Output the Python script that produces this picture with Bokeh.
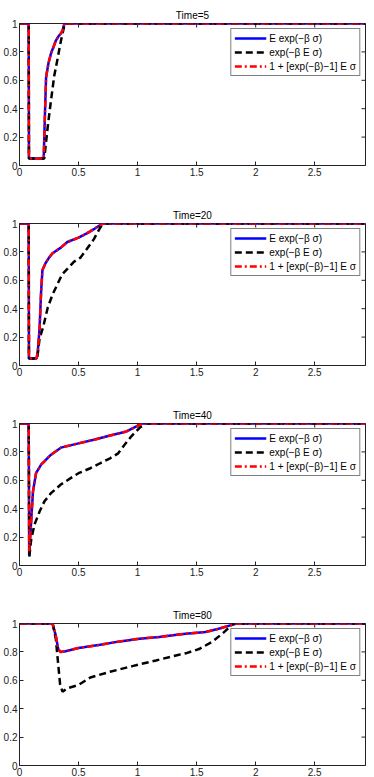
import math
from bokeh.plotting import figure
from bokeh.models import Range1d, Legend, LegendItem, FixedTicker
from bokeh.layouts import column
from bokeh.embed import file_html
from bokeh.resources import INLINE

FONT = "Liberation Sans"

titles = ["Time=5", "Time=20", "Time=40", "Time=80"]
series_labels = ["E exp(\u2212\u03b2 \u03c3)", "exp(\u2212\u03b2 E \u03c3)", "1 + [exp(\u2212\u03b2)\u22121] E \u03c3"]
xticks = [0, 0.5, 1, 1.5, 2, 2.5]
xtick_labels = ["0", "0.5", "1", "1.5", "2", "2.5"]
yticks = [0, 0.2, 0.4, 0.6, 0.8, 1]
ytick_labels = ["0", "0.2", "0.4", "0.6", "0.8", "1"]
x_max = 2.93

# Time = 5
x5 = [0, 0.078, 0.08, 0.205, 0.215, 0.225, 0.245, 0.267, 0.29, 0.308, 0.33, 0.35, 0.365, 0.38, 2.93]
blue5 = [1, 1, 0.05, 0.05, 0.35, 0.62, 0.72, 0.79, 0.84, 0.88, 0.91, 0.93, 0.95, 1, 1]
red5 = [1, 1, 0.05, 0.05, 0.35, 0.62, 0.72, 0.79, 0.84, 0.88, 0.91, 0.93, 0.95, 1, 1]
xk5 = [0, 0.078, 0.08, 0.21, 0.24, 0.267, 0.294, 0.322, 0.35, 0.378, 0.395, 2.93]
black5 = [1, 1, 0.05, 0.05, 0.28, 0.46, 0.63, 0.75, 0.875, 0.98, 1, 1]

# Time = 20
x20 = [0, 0.078, 0.08, 0.145, 0.155, 0.17, 0.183, 0.194, 0.22, 0.25, 0.28, 0.35, 0.405, 0.5, 0.57, 0.63, 0.683, 0.71, 2.93]
blue20 = [1, 1, 0.05, 0.05, 0.1, 0.26, 0.52, 0.67, 0.72, 0.76, 0.79, 0.83, 0.87, 0.90, 0.93, 0.96, 0.99, 1, 1]
red20 = [1, 1, 0.05, 0.05, 0.1, 0.26, 0.52, 0.67, 0.72, 0.76, 0.79, 0.83, 0.87, 0.90, 0.93, 0.96, 0.99, 1, 1]
xk20 = [0, 0.078, 0.08, 0.15, 0.17, 0.2, 0.24, 0.28, 0.32, 0.36, 0.405, 0.46, 0.517, 0.57, 0.63, 0.683, 0.71, 2.93]
black20 = [1, 1, 0.05, 0.05, 0.19, 0.27, 0.41, 0.5, 0.57, 0.64, 0.68, 0.73, 0.76, 0.82, 0.89, 0.97, 1, 1]

# Time = 40
x40 = [0, 0.078, 0.082, 0.1, 0.114, 0.14, 0.183, 0.267, 0.35, 0.5, 0.63, 0.767, 0.906, 0.99, 1.04, 2.93]
blue40 = [1, 1, 0.07, 0.33, 0.52, 0.65, 0.71, 0.78, 0.83, 0.86, 0.885, 0.915, 0.944, 0.98, 1, 1]
red40 = [1, 1, 0.1, 0.33, 0.52, 0.65, 0.71, 0.78, 0.83, 0.86, 0.885, 0.915, 0.944, 0.98, 1, 1]
xk40 = [0, 0.078, 0.083, 0.1, 0.128, 0.17, 0.21, 0.267, 0.35, 0.433, 0.5, 0.6, 0.683, 0.767, 0.836, 0.89, 0.947, 1.017, 1.07, 2.93]
black40 = [1, 1, 0.06, 0.19, 0.29, 0.38, 0.45, 0.51, 0.57, 0.615, 0.65, 0.685, 0.72, 0.755, 0.79, 0.85, 0.91, 0.97, 1, 1]

# Time = 80
x80 = [0, 0.28, 0.306, 0.328, 0.347, 0.39, 0.5, 0.683, 0.85, 1.017, 1.183, 1.35, 1.408, 1.575, 1.686, 1.8, 1.84, 2.93]
blue80 = [1, 1, 0.92, 0.82, 0.80, 0.805, 0.828, 0.85, 0.874, 0.893, 0.905, 0.923, 0.928, 0.94, 0.963, 0.99, 1, 1]
red80 = [1, 1, 0.92, 0.82, 0.80, 0.805, 0.828, 0.85, 0.874, 0.893, 0.905, 0.923, 0.928, 0.94, 0.963, 0.99, 1, 1]
xk80 = [0, 0.28, 0.308, 0.328, 0.344, 0.364, 0.405, 0.5, 0.6, 0.767, 0.956, 1.156, 1.35, 1.408, 1.52, 1.63, 1.72, 1.78, 1.81, 2.93]
black80 = [1, 1, 0.89, 0.71, 0.57, 0.52, 0.544, 0.567, 0.62, 0.66, 0.70, 0.74, 0.78, 0.79, 0.82, 0.87, 0.93, 0.975, 1, 1]

panels = [
    (x5, blue5, red5, xk5, black5),
    (x20, blue20, red20, xk20, black20),
    (x40, blue40, red40, xk40, black40),
    (x80, blue80, red80, xk80, black80),
]

AX = "#222222"


def style_axis(ax, ticks, labels):
    ax.ticker = FixedTicker(ticks=ticks)
    ax.major_label_overrides = {t: l for t, l in zip(ticks, labels)}
    ax.major_tick_in = 4
    ax.major_tick_out = 0
    ax.minor_tick_in = 0
    ax.minor_tick_out = 0
    ax.axis_line_color = AX
    ax.major_tick_line_color = AX
    ax.major_label_text_font = FONT
    ax.major_label_text_color = AX
    ax.major_label_text_font_size = "10px"
    ax.major_label_standoff = 2


figs = []
n = len(panels)
for i, (xb, yb, yr, xk, yk) in enumerate(panels):
    last = i == n - 1
    p = figure(
        frame_width=346, frame_height=142,
        x_range=Range1d(0, x_max), y_range=Range1d(0, 1),
        output_backend="svg", toolbar_location=None,
        min_border_left=16, min_border_right=4,
        min_border_top=23 if i == 0 else 18,
        min_border_bottom=13 if last else 39,
    )
    p.title.text = titles[i]
    p.title.align = "center"
    p.title.text_font = FONT
    p.title.text_font_size = "10px"
    p.title.text_font_style = "normal"
    p.title.text_color = "black"
    p.title.standoff = 6
    p.xgrid.visible = False
    p.ygrid.visible = False
    p.outline_line_color = AX
    p.outline_line_alpha = 1
    p.background_fill_color = "white"
    p.border_fill_color = "white"

    style_axis(p.xaxis[0], xticks, xtick_labels)
    style_axis(p.yaxis[0], yticks, ytick_labels)

    # box ticks on top and right (MATLAB "box on" style), from the tick arrays
    p.ray(x=xticks, y=[1] * len(xticks), length=4, length_units="screen",
          angle=-math.pi / 2, line_color=AX, line_width=1)
    p.ray(x=[x_max] * len(yticks), y=yticks, length=4, length_units="screen",
          angle=math.pi, line_color=AX, line_width=1)

    rb = p.line(xb, yb, line_color="#0000ff", line_width=2.5)
    rk = p.line(xk, yk, line_color="black", line_width=2.5, line_dash="7 4")
    rr = p.line(xb, yr, line_color="#ff0000", line_width=2.5, line_dash="7 3 2 3")

    legend = Legend(items=[
        LegendItem(label=series_labels[0], renderers=[rb]),
        LegendItem(label=series_labels[1], renderers=[rk]),
        LegendItem(label=series_labels[2], renderers=[rr]),
    ])
    legend.location = "top_right"
    legend.margin = 5
    legend.padding = 3
    legend.spacing = 2
    legend.label_height = 12
    legend.glyph_height = 12
    legend.glyph_width = 32
    legend.label_standoff = 3
    legend.label_text_font = FONT
    legend.label_text_font_size = "10px"
    legend.label_text_color = "black"
    legend.border_line_color = "black"
    legend.border_line_width = 1
    legend.background_fill_color = "white"
    legend.background_fill_alpha = 1
    p.add_layout(legend, "center")
    figs.append(p)

layout = column(*figs, spacing=0)

open("out.html", "w").write(file_html(layout, INLINE))
